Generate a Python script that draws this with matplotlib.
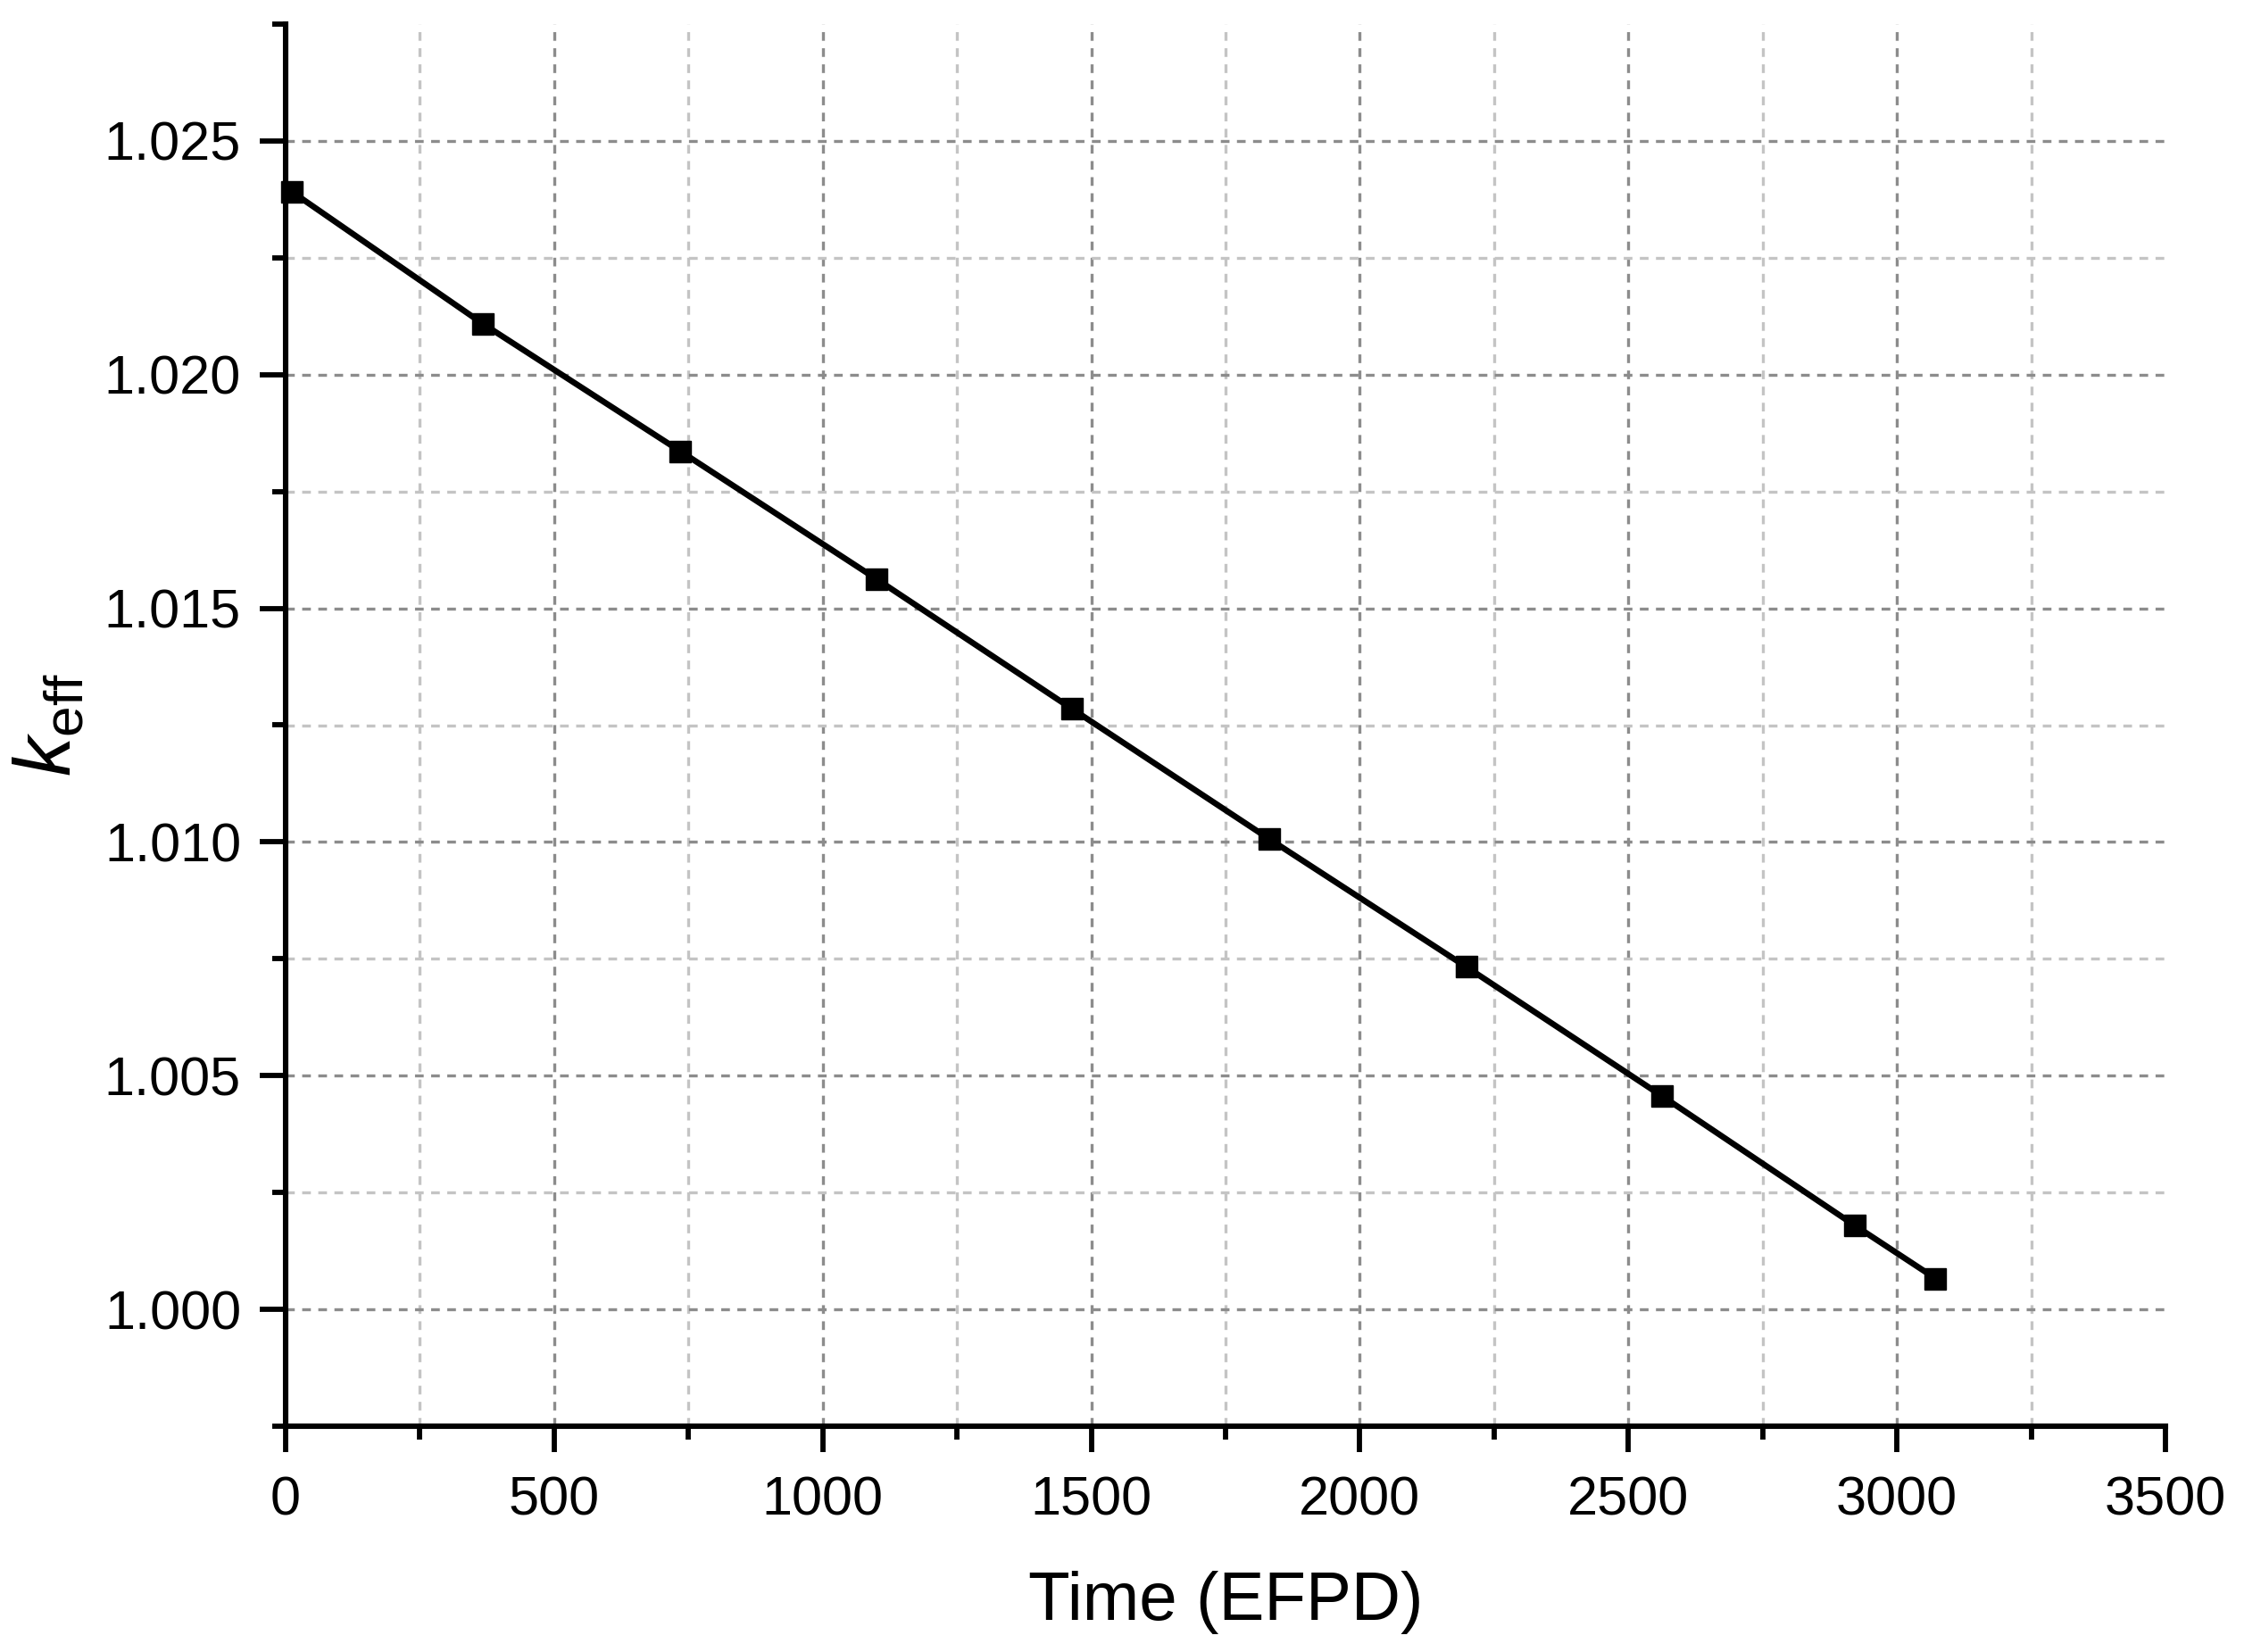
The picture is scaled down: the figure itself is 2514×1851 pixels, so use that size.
import matplotlib
matplotlib.use("Agg")
import numpy as np
import matplotlib.pyplot as plt
from matplotlib.ticker import MultipleLocator, FormatStrFormatter

# ---- data ----
time_efpd = [12, 367, 735, 1101, 1464, 1832, 2198, 2562, 2921, 3072]
keff = [1.02391, 1.02109, 1.01836, 1.01562, 1.01285, 1.01006, 1.00733, 1.00457, 1.00180, 1.00066]

x_label = "Time (EFPD)"
y_label = r"$k_{\mathrm{eff}}$"
x_limits = (0, 3500)
y_limits = (0.9975, 1.0275)
x_major, x_minor = 500, 250
y_major, y_minor = 0.005, 0.0025

plt.rcParams['font.family'] = ['Liberation Sans', 'DejaVu Sans']
plt.rcParams['mathtext.fontset'] = 'custom'
plt.rcParams['mathtext.rm'] = 'Liberation Sans'
plt.rcParams['mathtext.it'] = 'Liberation Sans:italic'
plt.rcParams['lines.scale_dashes'] = False

fig = plt.figure(figsize=(25.14, 18.51), dpi=100)
ax = fig.add_axes([320/2514, 1 - 1598/1851, 2106/2514, 1571/1851])

ax.plot(time_efpd, keff, color='black', linewidth=4.8, marker='s',
        markersize=17, markerfacecolor='black', markeredgecolor='black',
        zorder=5, clip_on=False)

ax.set_xlim(*x_limits)
ax.set_ylim(*y_limits)

ax.xaxis.set_major_locator(MultipleLocator(x_major))
ax.xaxis.set_minor_locator(MultipleLocator(x_minor))
ax.yaxis.set_major_locator(MultipleLocator(y_major))
ax.yaxis.set_minor_locator(MultipleLocator(y_minor))
ax.yaxis.set_major_formatter(FormatStrFormatter('%.3f'))

# grid lines (interior only, as in the original)
dash = (0, (7, 6))
major_c, minor_c = '#8c8c8c', '#c4c4c4'
xs = np.arange(x_limits[0] + x_minor, x_limits[1] - 1e-9, x_minor)
for v in xs:
    is_major = abs((v / x_major) - round(v / x_major)) < 1e-6
    ax.axvline(v, color=major_c if is_major else minor_c, linestyle=dash,
               linewidth=2.4, zorder=1)
ys = np.arange(y_limits[0] + y_minor, y_limits[1] - 1e-9, y_minor)
for v in ys:
    is_major = abs((v / y_major) - round(v / y_major)) < 1e-6
    ax.axhline(v, color=major_c if is_major else minor_c, linestyle=dash,
               linewidth=2.4, zorder=1)

for side in ['top', 'right']:
    ax.spines[side].set_visible(False)
for side in ['left', 'bottom']:
    ax.spines[side].set_linewidth(4.4)
    ax.spines[side].set_color('black')

ax.tick_params(axis='both', which='major', direction='out', length=21, width=4.2,
               labelsize=44, colors='black')
ax.tick_params(axis='both', which='minor', direction='out', length=11, width=4.2)
ax.tick_params(axis='y', which='major', pad=15)
ax.tick_params(axis='x', which='major', pad=19)

ax.set_xlabel(x_label, fontsize=55)
ax.set_ylabel(y_label, fontsize=64)
ax.xaxis.set_label_coords(0.5, -0.103)
ax.yaxis.set_label_coords(-0.105, 0.5)

fig.savefig("out.png", dpi=100)
